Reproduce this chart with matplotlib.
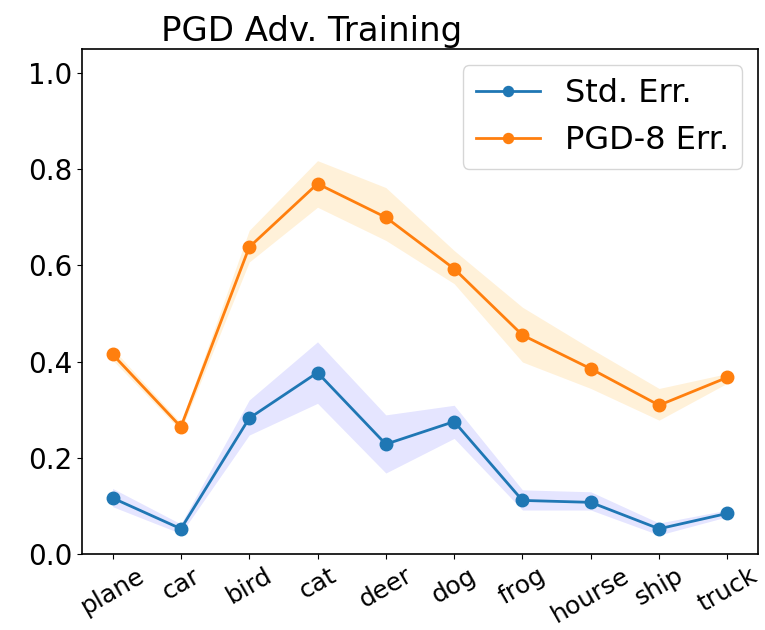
import matplotlib
matplotlib.use("Agg")
import matplotlib.pyplot as plt
import numpy as np

classes = ["plane", "car", "bird", "cat", "deer", "dog", "frog", "hourse", "ship", "truck"]

std_err = [0.116, 0.052, 0.282, 0.377, 0.228, 0.275, 0.111, 0.107, 0.052, 0.084]
std_hi = [0.136, 0.062, 0.320, 0.441, 0.289, 0.309, 0.133, 0.129, 0.064, 0.091]
std_lo = [0.098, 0.042, 0.247, 0.313, 0.168, 0.240, 0.091, 0.091, 0.039, 0.077]

pgd_err = [0.415, 0.264, 0.638, 0.770, 0.700, 0.593, 0.455, 0.385, 0.309, 0.367]
pgd_hi = [0.427, 0.272, 0.673, 0.818, 0.762, 0.631, 0.513, 0.427, 0.344, 0.375]
pgd_lo = [0.403, 0.256, 0.607, 0.721, 0.652, 0.562, 0.399, 0.344, 0.278, 0.355]

x = np.arange(len(classes))

fig = plt.figure(figsize=(7.65, 6.3), dpi=100)
ax = fig.add_axes([0.107, 0.121, 0.884, 0.801])

ax.plot(x, std_err, marker="o", ms=9, lw=2, color="tab:blue", label="Std. Err.")
ax.fill_between(x, std_lo, std_hi, color="blue", alpha=0.1, lw=0)
ax.plot(x, pgd_err, marker="o", ms=9, lw=2, color="tab:orange", label="PGD-8 Err.")
ax.fill_between(x, pgd_lo, pgd_hi, color="orange", alpha=0.15, lw=0)

ax.set_ylim(0, 1.05)
ax.set_yticks([0.0, 0.2, 0.4, 0.6, 0.8, 1.0])
ax.set_xticks(x)
ax.set_xticklabels(classes, rotation=30, fontsize=18)
ax.tick_params(axis="y", labelsize=20)
for s in ax.spines.values():
    s.set_linewidth(1.2)

ax.set_title("PGD Adv. Training", fontsize=24.5, x=0.34)
ax.legend(fontsize=23, loc="upper right", markerscale=0.8)

fig.savefig("out.png", dpi=100)
